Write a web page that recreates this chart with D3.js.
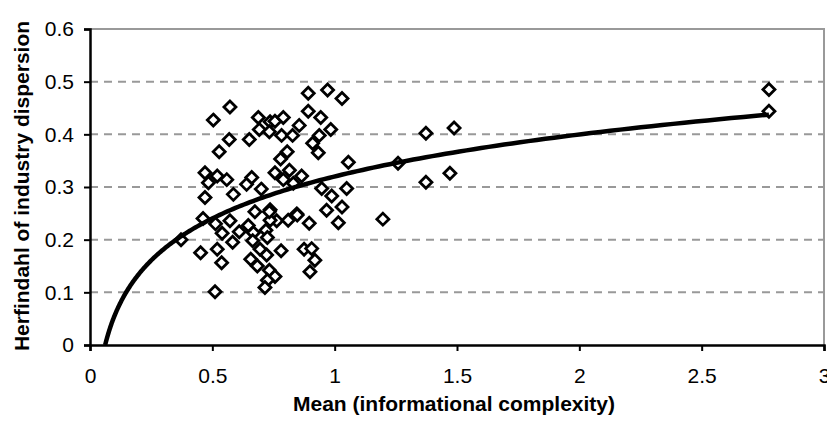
<!DOCTYPE html>
<html>
<head>
<meta charset="utf-8">
<script src="https://cdn.jsdelivr.net/npm/d3@7"></script>
<style>
  body { margin: 0; background: #fff; }
  text { font-family: "Liberation Sans", Arial, sans-serif; fill: #000; }
</style>
</head>
<body>
<div id="chart"></div>
<script>
(function () {
    "use strict";

// data
var meanComplexity = [
    0.504, 0.572, 0.528, 0.569, 0.651, 0.688, 0.692, 0.736, 0.733, 0.756,
    0.790, 0.783, 0.828, 0.855, 0.892, 0.971, 1.030, 0.892, 0.943, 0.984,
    0.937, 0.910, 0.933, 0.806, 0.779, 1.056, 0.470, 0.520, 0.559, 0.484,
    0.640, 0.661, 0.756, 0.815, 0.865, 0.790, 0.831, 0.470, 0.586, 0.700,
    0.947, 0.988, 1.049, 1.030, 0.967, 0.845, 0.736, 0.674, 0.572, 0.462,
    0.372, 0.513, 0.540, 0.583, 0.610, 0.647, 0.668, 0.719, 0.665, 0.695,
    0.722, 0.657, 0.684, 0.733, 0.756, 0.725, 0.715, 0.452, 0.520, 0.538,
    0.511, 0.781, 0.763, 0.810, 0.847, 0.896, 0.875, 0.919, 0.899, 1.015,
    0.725, 0.736, 0.733, 0.906, 1.373, 1.488, 1.373, 1.471, 1.197, 1.259,
    2.775, 2.775
];
var herfindahl = [
    0.427, 0.452, 0.367, 0.390, 0.390, 0.432, 0.409, 0.424, 0.405, 0.425,
    0.432, 0.398, 0.398, 0.417, 0.478, 0.484, 0.468, 0.444, 0.432, 0.409,
    0.398, 0.383, 0.365, 0.367, 0.353, 0.347, 0.327, 0.321, 0.314, 0.308,
    0.305, 0.318, 0.327, 0.332, 0.321, 0.314, 0.307, 0.280, 0.286, 0.296,
    0.297, 0.283, 0.297, 0.262, 0.256, 0.249, 0.257, 0.253, 0.236, 0.240,
    0.200, 0.230, 0.212, 0.195, 0.215, 0.227, 0.213, 0.218, 0.198, 0.182,
    0.171, 0.163, 0.150, 0.142, 0.130, 0.123, 0.109, 0.175, 0.182, 0.156,
    0.101, 0.179, 0.236, 0.237, 0.247, 0.231, 0.182, 0.161, 0.139, 0.232,
    0.204, 0.237, 0.253, 0.183, 0.402, 0.412, 0.309, 0.326, 0.239, 0.345,
    0.485, 0.444
];
// log trendline y = slope*ln(x) + intercept
var trendSlope = 0.115,
    trendIntercept = 0.320;
var xTicks = [0, 0.5, 1, 1.5, 2, 2.5, 3],
    yTicks = [0, 0.1, 0.2, 0.3, 0.4, 0.5, 0.6];

var width = 827,
    height = 424,
    left = 90,
    right = 824,
    top = 29,
    bottom = 345;

var x = d3.scaleLinear().domain([0, 3]).range([left, right]),
    y = d3.scaleLinear().domain([0, 0.6]).range([bottom, top]);

var svg = d3.select("#chart").append("svg")
    .attr("width", width)
    .attr("height", height);

// dashed gridlines
svg.append("g").selectAll("line")
    .data(yTicks.filter(function (d) { return d > 0 && d < 0.6; }))
    .enter().append("line")
    .attr("x1", left)
    .attr("x2", right)
    .attr("y1", function (d) { return y(d); })
    .attr("y2", function (d) { return y(d); })
    .attr("stroke", "#999")
    .attr("stroke-width", 2)
    .attr("stroke-dasharray", "8,6");

// grey frame top / right
svg.append("path")
    .attr("d", "M" + left + "," + y(0.6) + "H" + right + "V" + bottom)
    .attr("fill", "none")
    .attr("stroke", "#999")
    .attr("stroke-width", 2);

// axes
var xAxis = svg.append("g")
    .attr("transform", "translate(0," + bottom + ")")
    .call(d3.axisBottom(x).tickValues(xTicks).tickSize(6).tickPadding(17)
        .tickFormat(function (d) { return String(d); }));

var yAxis = svg.append("g")
    .attr("transform", "translate(" + left + ",0)")
    .call(d3.axisLeft(y).tickValues(yTicks).tickSize(6).tickPadding(10)
        .tickFormat(function (d) { return String(d); }));

[xAxis, yAxis].forEach(function (ax) {
    ax.select(".domain").attr("stroke", "#000").attr("stroke-width", 2.5);
    ax.selectAll(".tick line").attr("stroke", "#000").attr("stroke-width", 2);
    ax.selectAll(".tick text")
        .attr("font-size", 21)
        .attr("font-family", "Liberation Sans, Arial, sans-serif")
        .attr("fill", "#000");
});

// markers
var points = meanComplexity.map(function (d, i) { return [d, herfindahl[i]]; });
var diamond = "M0,-6L6,0L0,6L-6,0Z";

svg.append("g").selectAll("path")
    .data(points)
    .enter().append("path")
    .attr("d", diamond)
    .attr("transform", function (d) { return "translate(" + x(d[0]) + "," + y(d[1]) + ")"; })
    .attr("fill", "#fff")
    .attr("stroke", "#000")
    .attr("stroke-width", 2.8);

// trendline from where it crosses 0 to the last point
var xStart = Math.exp(-trendIntercept / trendSlope),
    xEnd = d3.max(meanComplexity);

var trend = d3.range(0, 201).map(function (i) {
    var t = xStart * Math.pow(xEnd / xStart, i / 200);
    return [t, trendSlope * Math.log(t) + trendIntercept];
});

svg.append("path")
    .datum(trend)
    .attr("d", d3.line()
        .x(function (d) { return x(d[0]); })
        .y(function (d) { return y(d[1]); }))
    .attr("fill", "none")
    .attr("stroke", "#000")
    .attr("stroke-width", 4.5);

// axis titles
svg.append("text")
    .attr("x", 454)
    .attr("y", 411)
    .attr("text-anchor", "middle")
    .attr("font-size", 21)
    .attr("font-weight", "bold")
    .text("Mean (informational complexity)");

svg.append("text")
    .attr("transform", "translate(29," + 186 + ") rotate(-90)")
    .attr("text-anchor", "middle")
    .attr("font-size", 21)
    .attr("font-weight", "bold")
    .text("Herfindahl of industry dispersion");

})();
</script>
</body>
</html>
